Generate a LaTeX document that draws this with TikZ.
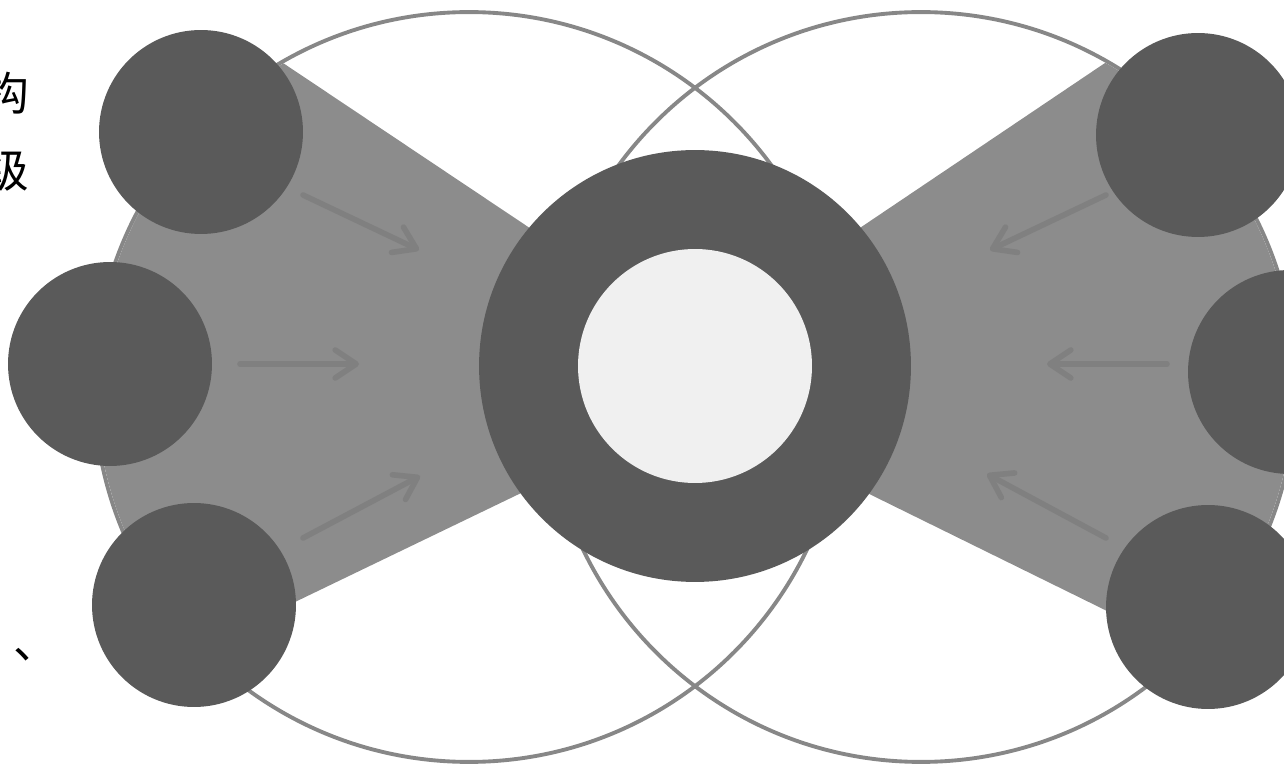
\documentclass[tikz,border=0pt]{standalone}
\usepackage{fontspec}
\newfontfamily\cjk{Noto Sans CJK SC}
\usetikzlibrary{arrows.meta}
\definecolor{discdark}{HTML}{5A5A5A}
\definecolor{wedgegray}{HTML}{8C8C8C}
\definecolor{flowgray}{HTML}{808080}
\definecolor{outlinegray}{HTML}{878787}
\definecolor{corelight}{HTML}{F0F0F0}
\tikzset{
    x=0.02cm,
    y=-0.02cm,
    big_ring/.style={
        circle,
        draw=outlinegray,
        line width=2.2pt,
        minimum size=15cm,
        inner sep=0pt
    },
    side_disc/.style={
        circle,
        fill=discdark,
        minimum size=4.08cm,
        inner sep=0pt
    },
    hub_outer/.style={
        circle,
        fill=discdark,
        minimum size=8.64cm,
        inner sep=0pt
    },
    hub_inner/.style={
        circle,
        fill=corelight,
        minimum size=4.68cm,
        inner sep=0pt
    },
    flow_arrow/.style={
        -{Straight Barb[round, length=0.42cm, width=0.56cm]},
        draw=flowgray,
        line width=3.2pt,
        line cap=round
    },
    side_text/.style={
        font=\cjk\fontsize{26pt}{30pt}\selectfont,
        inner sep=0pt
    }
}

\begin{document}
\begin{tikzpicture}

\useasboundingbox (0,0) rectangle (1284,766);
\clip (0,0) rectangle (1284,766);

% --- Big circles ---
\node[big_ring] (leftBig) at (469,387) {};
\node[big_ring] (rightBig) at (921,387) {};

% --- Gray wedges ---
\begin{scope}
    \clip (leftBig.center) circle[radius=7.46cm];
    \fill[wedgegray] (0,-127) -- (283,63) -- (600,275) -- (600,455) -- (295,602) -- (0,785) -- cycle;
\end{scope}
\begin{scope}
    \clip (rightBig.center) circle[radius=7.46cm];
    \fill[wedgegray] (1284,-95) -- (1105,63) -- (790,275) -- (790,455) -- (1105,610) -- (1284,720) -- cycle;
\end{scope}

% --- Flow arrows ---
\coordinate (ltTail) at (303,195);
\coordinate (ltTip) at (419,250);
\coordinate (lmTail) at (240,364);
\coordinate (lmTip) at (359,364);
\coordinate (lbTail) at (303,538);
\coordinate (lbTip) at (420,476);
\coordinate (rtTail) at (1106,195);
\coordinate (rtTip) at (990,250);
\coordinate (rmTail) at (1167,364);
\coordinate (rmTip) at (1047,364);
\coordinate (rbTail) at (1106,538);
\coordinate (rbTip) at (987,474);
\draw[flow_arrow] (ltTail) -- (ltTip);
\draw[flow_arrow] (lmTail) -- (lmTip);
\draw[flow_arrow] (lbTail) -- (lbTip);
\draw[flow_arrow] (rtTail) -- (rtTip);
\draw[flow_arrow] (rmTail) -- (rmTip);
\draw[flow_arrow] (rbTail) -- (rbTip);

% --- Side discs ---
\node[side_disc] (discLT) at (201,132) {};
\node[side_disc] (discLM) at (110,364) {};
\node[side_disc] (discLB) at (194,605) {};
\node[side_disc] (discRT) at (1198,135) {};
\node[side_disc] (discRM) at (1290,372) {};
\node[side_disc] (discRB) at (1208,607) {};

% --- Hub ---
\node[hub_outer] (hubOuter) at (695,366) {};
\node[hub_inner] (hubInner) at (hubOuter.center) {};

% --- Cut-off text ---
\node[side_text] (textGou) at (6,93) {构};
\node[side_text] (textJi) at (6,170) {级};
\node[side_text] (textDun) at (36,655) {、};

\end{tikzpicture}
\end{document}
